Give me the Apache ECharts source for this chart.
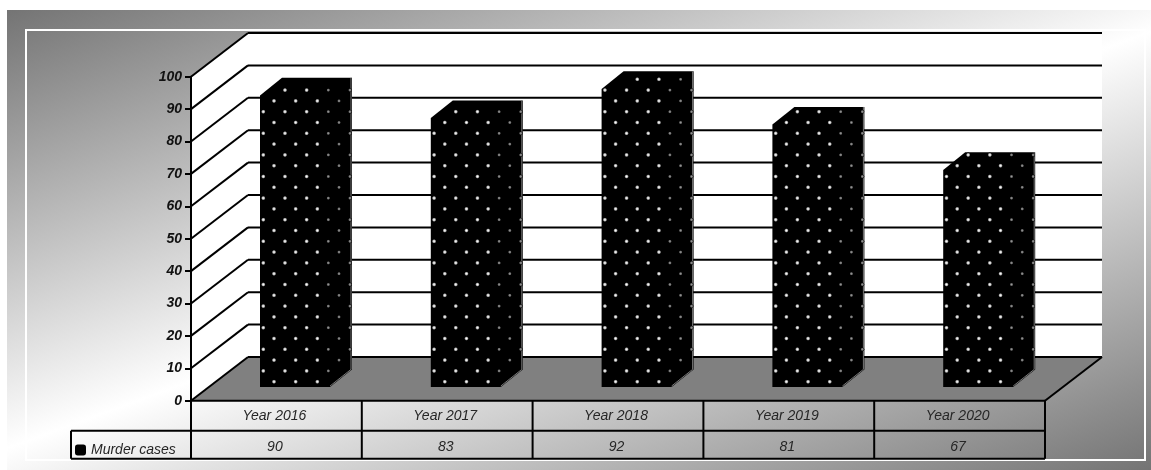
<!DOCTYPE html>
<html>
<head>
<meta charset="utf-8">
<style>html,body{margin:0;padding:0;background:#fff}#chart{width:1151px;height:470px}</style>
<script src="https://cdn.jsdelivr.net/npm/echarts@6/dist/echarts.min.js"></script>
</head>
<body>
<div id="chart"></div>
<script>
const years = ['Year 2016', 'Year 2017', 'Year 2018', 'Year 2019', 'Year 2020'];
const murderCases = [90, 83, 92, 81, 67];
const yTicks = [0, 10, 20, 30, 40, 50, 60, 70, 80, 90, 100];
const seriesName = 'Murder cases';

// Oblique projection of the floor and the bars
const DEPTH_X = 57, DEPTH_Y = 43.7;
const BAR_SHIFT_X = -16.4, BAR_SHIFT_Y = -13.7, BAR_W = 70, BAR_DX = 22, BAR_DY = 17.6;
const DOT_STEP_X = 21.67, DOT_STEP_Y = 10.8;
const TABLE_ROW = 30, TABLE_BOTTOM = 58, LEGEND_W = 120;

const ink = { stroke: '#000', lineWidth: 2, fill: null };
const line = (x1, y1, x2, y2) => ({ type: 'line', shape: { x1, y1, x2, y2 }, style: ink, silent: true });
const poly = (points, fill) => ({ type: 'polygon', shape: { points }, style: { fill }, silent: true });

// Back wall, side wall and floor
function renderRoom(params, api) {
  const { x: l, y: t, width: w, height: h } = params.coordSys;
  const right = l + w, b = t + h;
  return { type: 'group', children: [
    poly([[l, b], [l, t], [l + DEPTH_X, t - DEPTH_Y], [right + DEPTH_X, t - DEPTH_Y], [right + DEPTH_X, b - DEPTH_Y], [l + DEPTH_X, b - DEPTH_Y]], '#fff'),
    poly([[l, b], [l + DEPTH_X, b - DEPTH_Y], [right + DEPTH_X, b - DEPTH_Y], [right, b]], '#808080'),
    line(right, b, right + DEPTH_X, b - DEPTH_Y)
  ] };
}

// One slanted and one horizontal rule for each value tick
function renderRule(params, api) {
  const y = api.coord([0, api.value(0)])[1];
  const l = params.coordSys.x, right = l + params.coordSys.width;
  return { type: 'group', children: [
    line(l, y, l + DEPTH_X, y - DEPTH_Y),
    line(l + DEPTH_X, y - DEPTH_Y, right + DEPTH_X, y - DEPTH_Y)
  ] };
}

// Solid prism sprinkled with a staggered dot pattern
function renderBar(params, api) {
  const [cx, top0] = api.coord([api.value(0), api.value(1)]);
  const base0 = api.coord([0, 0])[1];
  const x0 = cx + BAR_SHIFT_X, x1 = x0 + BAR_W, x2 = x1 + BAR_DX;
  const top = top0 + BAR_SHIFT_Y, base = base0 + BAR_SHIFT_Y;
  const children = [
    poly([[x0, base], [x0, top], [x0 + BAR_DX, top - BAR_DY], [x2, top - BAR_DY], [x2, base - BAR_DY], [x1, base]], '#000'),
    { type: 'polyline', silent: true, shape: { points: [[x1, base - 1], [x2 - 1, base - BAR_DY], [x2 - 1, top - BAR_DY]] }, style: { stroke: '#777', lineWidth: 1, fill: null } }
  ];
  const dotY0 = base - 5.3;
  for (let row = 0; dotY0 - row * DOT_STEP_Y > top - BAR_DY; row++) {
    const y = dotY0 - row * DOT_STEP_Y;
    for (let x = x0 + (row % 2 ? 3.3 : 14); x < x2; x += DOT_STEP_X) {
      const upper = x < x0 + BAR_DX ? top - (x - x0) * BAR_DY / BAR_DX : top - BAR_DY;
      const lower = x > x1 ? base - (x - x1) * BAR_DY / BAR_DX : base;
      if (y < upper + 2 || y > lower - 2 || x > x2 - 2) continue;
      const side = x > x1 - 4;
      children.push({ type: 'circle', silent: true, shape: { cx: x, cy: y, r: side ? 1.9 : 2.3 },
        style: { fill: new echarts.graphic.RadialGradient(0.5, 0.5, 0.5, [
          { offset: 0, color: side ? '#999' : '#fff' },
          { offset: 0.45, color: side ? '#777' : '#ccc' },
          { offset: 1, color: '#000' }
        ]) } });
    }
  }
  return { type: 'group', children };
}

// Ruled data table below the floor
function renderTable(params, api) {
  const { x: l, y: t, width: w, height: h } = params.coordSys;
  const b = t + h, right = l + w;
  const mid = b + TABLE_ROW, low = b + TABLE_BOTTOM;
  const kids = [line(l, b, right, b), line(l - LEGEND_W, mid, right, mid), line(l - LEGEND_W, low, right, low), line(l - LEGEND_W, mid, l - LEGEND_W, low)];
  for (let i = 0; i <= years.length; i++) {
    const x = l + w * i / years.length;
    kids.push(line(x, b, x, low));
  }
  return { type: 'group', children: kids };
}

const labelFont = { fontFamily: 'Liberation Sans', fontStyle: 'italic', fontSize: 14, color: '#262626' };
const bareAxis = { axisLine: { show: false }, axisTick: { show: false }, splitLine: { show: false } };

const chart = echarts.init(document.getElementById('chart'), null, { renderer: 'canvas' });
chart.setOption({
  animation: false,
  backgroundColor: '#fff',
  graphic: [
    { type: 'rect', z: -10, shape: { x: 7, y: 10, width: 1144, height: 460 }, silent: true,
      style: { fill: new echarts.graphic.LinearGradient(438, -147, 720, 627, [
        { offset: 0, color: '#747474' }, { offset: 0.5, color: '#ffffff' }, { offset: 1, color: '#747474' }
      ], true) } },
    { type: 'rect', z: -9, shape: { x: 26, y: 30, width: 1119, height: 430 }, silent: true,
      style: { fill: null, stroke: '#fff', lineWidth: 2 } }
  ],
  legend: {
    left: 70, top: 438, itemWidth: 11, itemHeight: 11, itemGap: 4,
    data: [{ name: seriesName, icon: 'roundRect', itemStyle: { color: '#000' } }],
    textStyle: labelFont, selectedMode: false
  },
  grid: { left: 191, top: 76.7, width: 854, height: 324 },
  xAxis: [
    { type: 'category', data: years, position: 'bottom', ...bareAxis,
      axisLabel: { ...labelFont, margin: 8, interval: 0, padding: [0, 4, 0, 0] } },
    { type: 'category', data: murderCases.map(String), position: 'bottom', offset: 30, ...bareAxis,
      axisLabel: { ...labelFont, margin: 9, interval: 0, padding: [0, 3, 0, 0] } }
  ],
  yAxis: {
    type: 'value', min: 0, max: 100, interval: 10, splitLine: { show: false }, z: 5,
    axisLine: { show: true, lineStyle: { color: '#000', width: 2 } },
    axisTick: { show: true, length: 6, lineStyle: { color: '#000', width: 2 } },
    axisLabel: { ...labelFont, fontWeight: 'bold', color: '#111', margin: 9 }
  },
  series: [
    { type: 'custom', name: 'room', z: 1, silent: true, renderItem: renderRoom, data: [0] },
    { type: 'custom', name: 'rules', z: 2, silent: true, renderItem: renderRule, data: yTicks.map(v => [v]), encode: { y: 0 } },
    { type: 'custom', name: seriesName, z: 3, renderItem: renderBar, data: murderCases.map((v, i) => [i, v]), encode: { x: 0, y: 1 }, itemStyle: { color: '#000' } },
    { type: 'custom', name: 'table', z: 4, silent: true, renderItem: renderTable, data: [0] }
  ]
});
</script>
</body>
</html>
